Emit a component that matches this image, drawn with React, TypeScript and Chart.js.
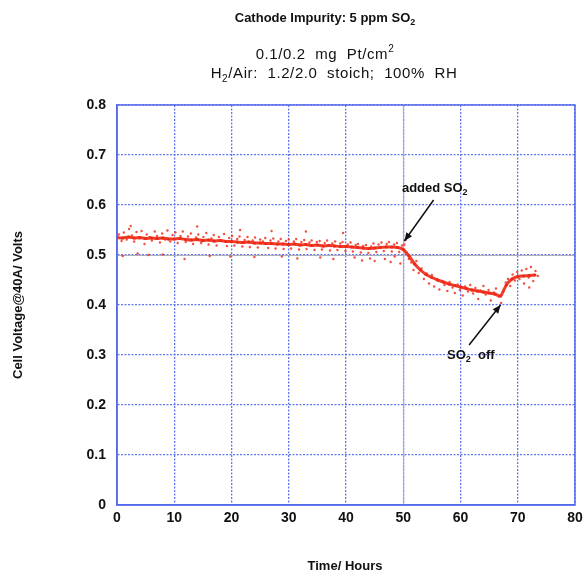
import React, { useEffect, useRef } from "react";
import { Chart, registerables } from "chart.js";

Chart.register(...registerables);

// Time (hours) of the averaged trend readings
const trendHours: number[] = [
  0, 1, 2, 3, 4, 5, 6, 7, 8, 9, 10, 11, 12, 13, 14, 15, 16, 17, 18, 19, 20, 21, 22, 23, 24, 25, 26, 27, 28, 29,
  30, 31, 32, 33, 34, 35, 36, 37, 38, 39, 40, 41, 42, 43, 44, 45, 46, 47, 48, 49, 50, 51, 52, 53, 54, 55, 56,
  57, 58, 59, 60, 61, 62, 63, 64, 65, 66, 67, 68, 69, 70, 71, 72, 73,
];
// Cell voltage (V) trend
const trendVolts: number[] = [
  0.535, 0.534, 0.536, 0.534, 0.535, 0.533, 0.534, 0.533, 0.534, 0.532, 0.532, 0.533, 0.531, 0.53, 0.531,
  0.529, 0.53, 0.528, 0.529, 0.527, 0.527, 0.526, 0.525, 0.526, 0.524, 0.524, 0.523, 0.523, 0.522, 0.522,
  0.521, 0.522, 0.52, 0.521, 0.519, 0.52, 0.518, 0.519, 0.518, 0.517, 0.517, 0.516, 0.515, 0.514, 0.513,
  0.514, 0.515, 0.516, 0.516, 0.515, 0.511, 0.498, 0.482, 0.47, 0.461, 0.455, 0.45, 0.446, 0.442, 0.439,
  0.436, 0.433, 0.43, 0.428, 0.426, 0.424, 0.422, 0.418, 0.44, 0.452, 0.457, 0.458, 0.459, 0.46,
];
// Individual scattered readings [hour, volts]
const scatterReadings: number[][] = [
  [0.3, 0.541], [0.8, 0.528], [1.2, 0.545], [1.7, 0.531], [2.1, 0.552], [2.6, 0.539], [3.0, 0.527], [3.4, 0.546],
  [3.9, 0.533], [4.3, 0.548], [4.8, 0.522], [5.2, 0.541], [5.7, 0.536], [6.1, 0.529], [6.6, 0.547], [7.0, 0.538],
  [7.5, 0.525], [7.9, 0.543], [8.4, 0.531], [8.8, 0.549], [9.3, 0.527], [9.7, 0.54], [10.2, 0.545], [10.6, 0.524],
  [11.1, 0.538], [11.5, 0.547], [12.0, 0.526], [12.4, 0.537], [12.9, 0.543], [13.3, 0.522], [13.8, 0.535],
  [14.2, 0.541], [14.7, 0.524], [15.1, 0.536], [15.6, 0.544], [16.0, 0.521], [16.5, 0.533], [16.9, 0.54],
  [17.4, 0.519], [17.8, 0.536], [18.3, 0.529], [18.7, 0.542], [19.2, 0.518], [19.6, 0.534], [20.1, 0.538],
  [20.5, 0.519], [21.0, 0.532], [21.4, 0.537], [21.9, 0.517], [22.3, 0.53], [22.8, 0.536], [23.2, 0.516],
  [23.7, 0.529], [24.1, 0.535], [24.6, 0.515], [25.0, 0.531], [25.5, 0.527], [25.9, 0.534], [26.4, 0.514],
  [26.8, 0.529], [27.3, 0.533], [27.7, 0.513], [28.2, 0.527], [28.6, 0.532], [29.1, 0.512], [29.5, 0.528],
  [30.0, 0.531], [30.4, 0.513], [30.9, 0.527], [31.3, 0.532], [31.8, 0.511], [32.2, 0.526], [32.7, 0.53],
  [33.1, 0.512], [33.6, 0.525], [34.0, 0.529], [34.5, 0.51], [34.9, 0.526], [35.4, 0.528], [35.8, 0.511],
  [36.3, 0.524], [36.7, 0.529], [37.2, 0.509], [37.6, 0.523], [38.1, 0.527], [38.5, 0.51], [39.0, 0.523],
  [39.4, 0.526], [39.9, 0.508], [40.3, 0.521], [40.8, 0.525], [41.2, 0.507], [41.7, 0.52], [42.1, 0.522],
  [42.6, 0.505], [43.0, 0.518], [43.5, 0.52], [43.9, 0.504], [44.4, 0.517], [44.8, 0.523], [45.3, 0.506],
  [45.7, 0.521], [46.2, 0.525], [46.6, 0.508], [47.1, 0.522], [47.5, 0.526], [48.0, 0.507], [48.4, 0.521],
  [48.9, 0.524], [49.3, 0.506], [49.8, 0.519], [50.2, 0.521],
  [1.0, 0.498], [2.4, 0.558], [3.6, 0.503], [5.5, 0.5], [8.0, 0.501], [11.8, 0.492], [14.0, 0.557], [16.2, 0.498],
  [19.8, 0.497], [21.5, 0.55], [24.0, 0.496], [27.0, 0.548], [28.8, 0.497], [31.5, 0.493], [33.0, 0.547],
  [35.5, 0.495], [37.8, 0.492], [39.5, 0.544], [41.5, 0.495], [42.8, 0.489], [44.2, 0.493], [45.0, 0.488],
  [46.8, 0.492], [47.8, 0.486], [48.5, 0.497], [49.5, 0.483], [50.4, 0.53],
  [50.6, 0.505], [51.0, 0.492], [51.4, 0.485], [51.8, 0.47], [52.3, 0.488], [52.7, 0.464], [53.2, 0.473],
  [53.6, 0.452], [54.1, 0.463], [54.5, 0.443], [55.0, 0.46], [55.4, 0.437], [55.9, 0.452], [56.3, 0.431],
  [56.8, 0.447], [57.2, 0.44], [57.7, 0.428], [58.1, 0.446], [58.6, 0.435], [59.0, 0.424], [59.5, 0.441],
  [59.9, 0.43], [60.4, 0.419], [60.8, 0.437], [61.3, 0.427], [61.7, 0.44], [62.2, 0.423], [62.6, 0.434],
  [63.1, 0.412], [63.5, 0.429], [64.0, 0.438], [64.4, 0.421], [64.9, 0.43], [65.3, 0.409], [65.8, 0.425],
  [66.2, 0.433], [66.7, 0.417], [67.1, 0.404], [67.5, 0.428], [67.9, 0.445], [68.3, 0.452], [68.7, 0.438],
  [69.1, 0.461], [69.5, 0.449], [69.9, 0.466], [70.3, 0.452], [70.7, 0.469], [71.1, 0.443], [71.5, 0.472],
  [71.9, 0.455], [72.3, 0.476], [72.7, 0.448], [73.1, 0.468], [73.5, 0.458], [72.0, 0.435],
];

const xTicks: number[] = [0, 10, 20, 30, 40, 50, 60, 70, 80];
const yTicks: number[] = [0, 0.1, 0.2, 0.3, 0.4, 0.5, 0.6, 0.7, 0.8];

const titleMain = "Cathode Impurity: 5 ppm SO";
const xTitle = "Time/ Hours";
const yTitle = "Cell Voltage@40A/ Volts";

type Part = { t: string; sub?: boolean; sup?: boolean };

function drawRich(ctx: CanvasRenderingContext2D, parts: Part[], cx: number, cy: number, font: string, smallFont: string, spacing = 0) {
  ctx.save();
  ctx.textBaseline = "middle";
  ctx.textAlign = "left";
  (ctx as any).letterSpacing = spacing + "px";
  const widths = parts.map((p) => {
    ctx.font = p.sub || p.sup ? smallFont : font;
    return ctx.measureText(p.t).width;
  });
  const total = widths.reduce((a, b) => a + b, 0);
  let x = cx - total / 2;
  parts.forEach((p, i) => {
    ctx.font = p.sub || p.sup ? smallFont : font;
    const dy = p.sub ? 5 : p.sup ? -6 : 0;
    ctx.fillText(p.t, x, cy + dy);
    x += widths[i];
  });
  ctx.restore();
}

function arrow(ctx: CanvasRenderingContext2D, x1: number, y1: number, x2: number, y2: number) {
  ctx.save();
  ctx.strokeStyle = "#111";
  ctx.fillStyle = "#111";
  ctx.lineWidth = 1.5;
  ctx.beginPath();
  ctx.moveTo(x1, y1);
  ctx.lineTo(x2, y2);
  ctx.stroke();
  const a = Math.atan2(y2 - y1, x2 - x1);
  const L = 9, W = 0.4;
  ctx.beginPath();
  ctx.moveTo(x2, y2);
  ctx.lineTo(x2 - L * Math.cos(a - W), y2 - L * Math.sin(a - W));
  ctx.lineTo(x2 - L * Math.cos(a + W), y2 - L * Math.sin(a + W));
  ctx.closePath();
  ctx.fill();
  ctx.restore();
}

const F = '"Liberation Sans", Arial, sans-serif';
const BLUE = "rgb(85,105,235)";
const GRID = "rgba(90,112,238,0.95)";

const specialGrid = {
  id: "specialGrid",
  beforeDatasetsDraw(chart: any) {
    const c: CanvasRenderingContext2D = chart.ctx;
    const { left, right, top, bottom } = chart.chartArea;
    const x50 = Math.round(chart.scales.x.getPixelForValue(50)) + 0.5;
    const y05 = Math.round(chart.scales.y.getPixelForValue(0.5)) + 0.5;
    c.save();
    c.strokeStyle = "rgb(175,175,188)";
    c.lineWidth = 1.2;
    c.beginPath();
    c.moveTo(x50, top);
    c.lineTo(x50, bottom);
    c.moveTo(left, y05);
    c.lineTo(right, y05);
    c.stroke();
    c.restore();
  },
};

const textPlugin = {
  id: "textDecor",
  afterDraw(chart: any) {
    const ctx: CanvasRenderingContext2D = chart.ctx;
    const xs = chart.scales.x;
    const ys = chart.scales.y;
    const { left, right, top, bottom } = chart.chartArea;
    ctx.save();
    ctx.strokeStyle = BLUE;
    ctx.lineWidth = 1.5;
    ctx.strokeRect(left, top, right - left, bottom - top);
    ctx.restore();

    ctx.fillStyle = "#111";
    drawRich(ctx, [{ t: titleMain }, { t: "2", sub: true }], 325, 18, `bold 13px ${F}`, `bold 9px ${F}`);
    drawRich(ctx, [{ t: "0.1/0.2  mg  Pt/cm" }, { t: "2", sup: true }], 325, 55, `15px ${F}`, `10px ${F}`, 0.6);
    drawRich(ctx, [{ t: "H" }, { t: "2", sub: true }, { t: "/Air:  1.2/2.0  stoich;  100%  RH" }], 334, 74, `15px ${F}`, `10px ${F}`, 0.6);

    ctx.save();
    ctx.fillStyle = "#111";
    ctx.font = `bold 13px ${F}`;
    ctx.textAlign = "center";
    ctx.textBaseline = "middle";
    ctx.fillText(xTitle, 345, 566);
    ctx.translate(18, 305);
    ctx.rotate(-Math.PI / 2);
    ctx.fillText(yTitle, 0, 0);
    ctx.restore();

    const ax1 = xs.getPixelForValue(55.3), ay1 = ys.getPixelForValue(0.61);
    const ax2 = xs.getPixelForValue(50.2), ay2 = ys.getPixelForValue(0.528);
    arrow(ctx, ax1, ay1, ax2, ay2);
    drawRich(ctx, [{ t: "added SO" }, { t: "2", sub: true }], xs.getPixelForValue(55.5), ys.getPixelForValue(0.634), `bold 13px ${F}`, `bold 9px ${F}`);

    const bx1 = xs.getPixelForValue(61.5), by1 = ys.getPixelForValue(0.32);
    const bx2 = xs.getPixelForValue(67.0), by2 = ys.getPixelForValue(0.4);
    arrow(ctx, bx1, by1, bx2, by2);
    drawRich(ctx, [{ t: "SO" }, { t: "2", sub: true }, { t: "  off" }], xs.getPixelForValue(61.8), ys.getPixelForValue(0.3), `bold 13px ${F}`, `bold 9px ${F}`);
  },
};

export default function App() {
  const ref = useRef<HTMLCanvasElement>(null);
  useEffect(() => {
    if (!ref.current) return;
    const chart = new Chart(ref.current, {
      type: "scatter",
      data: {
        datasets: [
          {
            label: "scatter",
            data: scatterReadings.map((p) => ({ x: p[0], y: p[1] })),
            pointRadius: 1.2,
            pointBorderWidth: 0,
            pointBackgroundColor: "rgba(240,50,30,0.85)",
            showLine: false,
          },
          {
            label: "trend",
            data: trendHours.map((h, i) => ({ x: h, y: trendVolts[i] })),
            showLine: true,
            borderColor: "rgba(238,40,20,0.9)",
            borderWidth: 3,
            pointRadius: 1.6,
            pointBorderWidth: 0,
            pointBackgroundColor: "rgb(238,40,20)",
            tension: 0.2,
          },
        ],
      },
      options: {
        responsive: false,
        animation: false,
        layout: { padding: { left: 77, right: 8, top: 105, bottom: 40 } },
        plugins: { legend: { display: false }, tooltip: { enabled: false }, title: { display: false } },
        scales: {
          x: {
            type: "linear",
            min: 0,
            max: 80,
            afterBuildTicks: (s: any) => { s.ticks = xTicks.map((v) => ({ value: v })); },
            afterFit: (s: any) => { s.height = 30; s.paddingLeft = 0; s.paddingRight = 0; },
            ticks: { color: "#111", font: { family: F, size: 14, weight: "bold" }, padding: 5, callback: (v: any) => String(v) },
            grid: { color: GRID, lineWidth: 1.3, drawTicks: false },
            border: { color: BLUE, width: 1.5, dash: [2, 1.5] },
          },
          y: {
            type: "linear",
            min: 0,
            max: 0.8,
            afterBuildTicks: (s: any) => { s.ticks = yTicks.map((v) => ({ value: v })); },
            afterFit: (s: any) => { s.width = 40; s.paddingTop = 0; s.paddingBottom = 0; },
            ticks: {
              color: "#111",
              font: { family: F, size: 14, weight: "bold" },
              padding: 11,
              callback: (v: any) => (Math.abs(v) < 1e-9 ? "0" : Number(v).toFixed(1)),
            },
            grid: { color: GRID, lineWidth: 1.3, drawTicks: false },
            border: { color: BLUE, width: 1.5, dash: [2, 1.5] },
          },
        },
      },
      plugins: [specialGrid, textPlugin],
    } as any);
    return () => chart.destroy();
  }, []);
  return (
    <div style={{ position: "absolute", left: 0, top: 0, width: 583, height: 575, background: "#fff" }}>
      <canvas ref={ref} width={583} height={575} style={{ display: "block" }} />
    </div>
  );
}
